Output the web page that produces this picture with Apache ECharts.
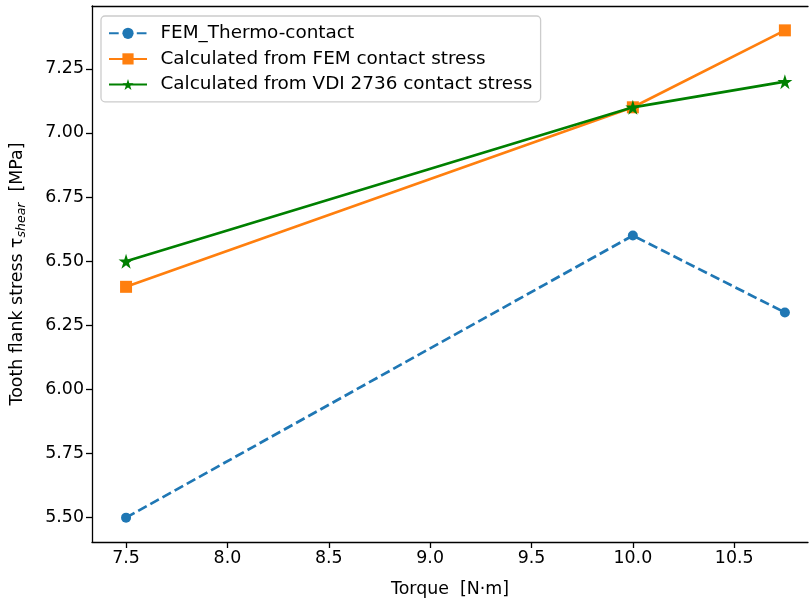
<!DOCTYPE html>
<html><head><meta charset="utf-8">
<script src="https://cdn.jsdelivr.net/npm/echarts@6/dist/echarts.min.js"></script>
<style>html,body{margin:0;padding:0;background:#fff}#c{width:810px;height:601px}</style>
</head><body><div id="c"></div>
<script>
const torque = [7.5, 10.0, 10.75];
const femThermo = [5.5, 6.6, 6.3];
const femContact = [6.4, 7.1, 7.4];
const vdiContact = [6.5, 7.1, 7.2];
const xTicks = [7.5, 8.0, 8.5, 9.0, 9.5, 10.0, 10.5];
const yTicks = [5.50, 5.75, 6.00, 6.25, 6.50, 6.75, 7.00, 7.25];
const names = ['FEM_Thermo-contact', 'Calculated from FEM contact stress', 'Calculated from VDI 2736 contact stress'];

const pairs = v => torque.map((t, i) => [t, v[i]]);
const F = 'DejaVu Sans';
const fs = 17.4;
const lfs = 18.4;
const XMIN = 7.332, XMAX = 10.864;
const chart = echarts.init(document.getElementById('c'), null, {renderer: 'canvas'});
chart.setOption({
  animation: false,
  backgroundColor: '#fff',
  grid: {left: 92, right: 2, top: 6, bottom: 59, show: false, containLabel: false, outerBoundsMode: 'none'},
  xAxis: [{
    type: 'value', min: XMIN, max: XMAX,
    name: 'Torque  [N·m]', nameLocation: 'middle', nameGap: 39,
    nameTextStyle: {fontFamily: F, fontSize: fs, color: '#000'},
    axisLine: {show: true, lineStyle: {color: '#000', width: 1.3}},
    axisTick: {show: true, length: 6, lineStyle: {color: '#000', width: 1.3}, customValues: xTicks},
    axisLabel: {fontFamily: F, fontSize: fs, color: '#000', margin: 8, customValues: xTicks, formatter: v => v.toFixed(1)},
    splitLine: {show: false}
  }, {
    type: 'value', position: 'top', min: XMIN, max: XMAX,
    axisLine: {show: true, onZero: false, lineStyle: {color: '#000', width: 1.3}},
    axisTick: {show: false}, axisLabel: {show: false}, splitLine: {show: false}
  }],
  yAxis: {
    type: 'value', min: 5.405, max: 7.495,
    name: 'Tooth flank stress τ{sub|shear}  [MPa]', nameLocation: 'middle', nameGap: 64, nameRotate: 90,
    nameTextStyle: {fontFamily: F, fontSize: fs, color: '#000',
      rich: {sub: {fontFamily: F, fontSize: 12.5, fontStyle: 'italic', color: '#000', verticalAlign: 'bottom', padding: [8, 0, 0, 0]}}},
    axisLine: {show: true, lineStyle: {color: '#000', width: 1.3}},
    axisTick: {show: true, length: 6, lineStyle: {color: '#000', width: 1.3}, customValues: yTicks},
    axisLabel: {fontFamily: F, fontSize: fs, color: '#000', margin: 8, customValues: yTicks, formatter: v => v.toFixed(2)},
    splitLine: {show: false}
  },
  legend: {
    orient: 'vertical', left: 101, top: 16,
    padding: [8.3, 8.3, 8.3, 7], itemGap: 7.6, itemWidth: 38, itemHeight: 14,
    backgroundColor: 'rgba(255,255,255,0.8)', borderColor: '#cccccc', borderWidth: 1.3, borderRadius: 4,
    textStyle: {fontFamily: F, fontSize: lfs, color: '#000', padding: [0, 0, 0, 8.5]},
    data: names
  },
  series: [
    {name: names[0], type: 'line', data: pairs(femThermo), symbol: 'circle', symbolSize: 10,
     lineStyle: {color: '#1f77b4', width: 2.7, type: [9.7, 4.2]}, itemStyle: {color: '#1f77b4'}, z: 2},
    {name: names[1], type: 'line', data: pairs(femContact), symbol: 'rect', symbolSize: 12,
     lineStyle: {color: '#ff7f0e', width: 2.7}, itemStyle: {color: '#ff7f0e'}, z: 3},
    {name: names[2], type: 'line', data: pairs(vdiContact), symbol: 'path://M0,-1 L0.2245,-0.309 L0.951,-0.309 L0.363,0.118 L0.588,0.809 L0,0.382 L-0.588,0.809 L-0.363,0.118 L-0.951,-0.309 L-0.2245,-0.309 Z', symbolSize: 15,
     lineStyle: {color: '#008000', width: 2.7}, itemStyle: {color: '#008000'}, z: 4}
  ]
});
</script></body></html>
